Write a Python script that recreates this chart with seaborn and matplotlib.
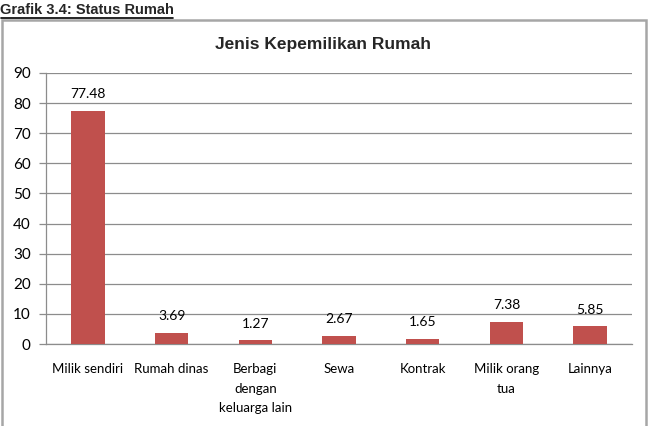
import matplotlib
matplotlib.use("Agg")
import matplotlib.pyplot as plt
import seaborn as sns
import pandas as pd
from matplotlib.patches import Rectangle
from matplotlib import font_manager

categories = ["Milik sendiri", "Rumah dinas", "Berbagi dengan keluarga lain",
              "Sewa", "Kontrak", "Milik orang tua", "Lainnya"]
tick_labels = ["Milik sendiri", "Rumah dinas", "Berbagi\ndengan\nkeluarga lain",
               "Sewa", "Kontrak", "Milik orang\ntua", "Lainnya"]
values = [77.48, 3.69, 1.27, 2.67, 1.65, 7.38, 5.85]
value_labels = ["77.48", "3.69", "1.27", "2.67", "1.65", "7.38", "5.85"]
y_ticks = [0, 10, 20, 30, 40, 50, 60, 70, 80, 90]

names = {f.name for f in font_manager.fontManager.ttflist}
narrow = "Liberation Sans Narrow" if "Liberation Sans Narrow" in names else "Liberation Sans"

sns.set_theme(style="white")
plt.rcParams['font.family'] = ['Lato', 'DejaVu Sans']

df = pd.DataFrame({"cat": categories, "val": values})

fig = plt.figure(figsize=(6.51, 4.26), dpi=100)
ax = fig.add_axes([46/651, 1 - 344/426, (632-46)/651, (344-73)/426])

sns.barplot(data=df, x="cat", y="val", color="#C0504D", saturation=1,
            width=0.4, ax=ax, zorder=3, edgecolor="none")

ax.set_ylim(0, 90)
ax.set_xlim(-0.5, len(categories) - 0.5)
ax.set_yticks(y_ticks)
ax.set_yticklabels([str(t) for t in y_ticks], fontsize=11, color="#000000")
ax.yaxis.grid(True, color="#8C8C8C", linewidth=0.9, zorder=0)
ax.set_axisbelow(True)

ax.set_xticks(range(len(categories)))
ax.set_xticklabels(tick_labels, fontsize=9.5, color="#000000", linespacing=1.75)
ax.tick_params(axis="x", which="major", length=0, pad=14)
ax.set_xticks([i - 0.5 for i in range(len(categories) + 1)], minor=True)
ax.tick_params(axis="x", which="minor", length=5, color="#8C8C8C", width=0.9)
ax.tick_params(axis="y", length=5, color="#8C8C8C", width=0.9, pad=6, left=True)

for s in ["top", "right"]:
    ax.spines[s].set_visible(False)
for s in ["left", "bottom"]:
    ax.spines[s].set_color("#8C8C8C")
    ax.spines[s].set_linewidth(0.9)

ax.set_xlabel("")
ax.set_ylabel("")

for i, (v, lab) in enumerate(zip(values, value_labels)):
    ax.annotate(lab, (i, v), xytext=(0, 12), textcoords="offset points",
                ha="center", va="center", fontsize=10, color="#000000")

fig.text(323/651, 1 - 44/426, "Jenis Kepemilikan Rumah", ha="center", va="center",
         fontsize=12.5, fontweight="bold", family=narrow)
fig.text(0.5/651, 1 - 10/426, "Grafik 3.4: Status Rumah", ha="left", va="center",
         fontsize=10.5, fontweight="bold", family=narrow)
fig.add_artist(plt.Line2D([0.5/651, 173/651], [1 - 18/426, 1 - 18/426],
                          color="black", linewidth=1.2))

fig.add_artist(Rectangle((2/651, -0.1), (646-2)/651, 1 - 20/426 + 0.1,
                         transform=fig.transFigure, fill=False,
                         edgecolor="#A6A6A6", linewidth=1.8))

fig.savefig("out.png", dpi=100)
